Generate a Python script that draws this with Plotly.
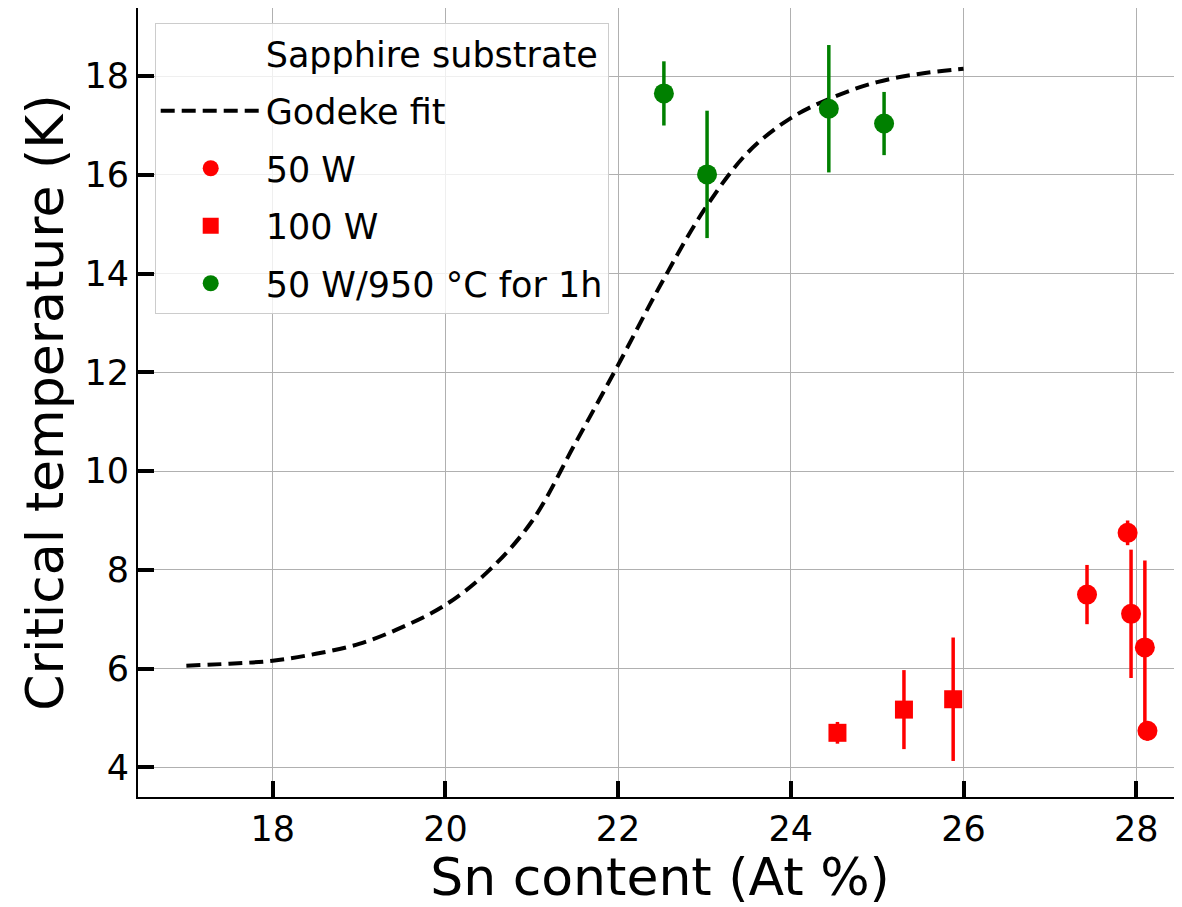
import plotly.graph_objects as go

FONT = "DejaVu Sans"
RED = "#ff0000"
GREEN = "#008000"

# Godeke fit
fit_x = [17.0, 17.5, 18.0, 18.5, 19.0, 19.5, 20.0, 20.5, 21.0, 21.5, 22.0,
         22.5, 23.0, 23.5, 24.0, 24.5, 25.0, 25.5, 26.0]
fit_tc = [6.06, 6.10, 6.16, 6.30, 6.50, 6.84, 7.29, 7.98, 8.98, 10.55, 12.15,
          13.8, 15.3, 16.45, 17.15, 17.58, 17.88, 18.05, 18.15]

# 50 W
w50_sn = [27.43, 27.90, 27.94, 28.10, 28.13]
w50_tc = [7.50, 8.75, 7.11, 6.43, 4.74]
w50_err = [0.60, 0.25, 1.30, 1.76, 0.20]

# 100 W
w100_sn = [24.54, 25.31, 25.88]
w100_tc = [4.70, 5.17, 5.38]
w100_err = [0.22, 0.80, 1.25]

# 50 W annealed at 950 C for 1h
ann_sn = [22.53, 23.03, 24.44, 25.08]
ann_tc = [17.65, 16.01, 17.34, 17.04]
ann_err = [0.65, 1.29, 1.29, 0.64]

x_ticks = [18, 20, 22, 24, 26, 28]
y_ticks = [4, 6, 8, 10, 12, 14, 16, 18]

fig = go.Figure()

# dummy entry used as a heading in the legend
fig.add_trace(go.Scatter(
    x=[None], y=[None], mode="lines", name="Sapphire substrate",
    line=dict(color="rgba(0,0,0,0)", width=0), legendgroup="a",
))
fig.add_trace(go.Scatter(
    x=fit_x, y=fit_tc, mode="lines", name="Godeke fit", legendgroup="b",
    line=dict(color="black", width=4, dash="14px,7px", shape="spline"),
))
fig.add_trace(go.Scatter(
    x=w50_sn, y=w50_tc, mode="markers", name="50 W", legendgroup="c",
    marker=dict(color=RED, size=20, symbol="circle"),
    error_y=dict(type="data", array=w50_err, color=RED, thickness=3.5, width=0),
))
fig.add_trace(go.Scatter(
    x=w100_sn, y=w100_tc, mode="markers", name="100 W", legendgroup="d",
    marker=dict(color=RED, size=18, symbol="square"),
    error_y=dict(type="data", array=w100_err, color=RED, thickness=3.5, width=0),
))
fig.add_trace(go.Scatter(
    x=ann_sn, y=ann_tc, mode="markers", name="50 W/950 °C for 1h", legendgroup="e",
    marker=dict(color=GREEN, size=20, symbol="circle"),
    error_y=dict(type="data", array=ann_err, color=GREEN, thickness=3.5, width=0),
))

axis_common = dict(
    showgrid=True, gridcolor="#b0b0b0", gridwidth=1,
    showline=True, linecolor="black", linewidth=2,
    ticks="inside", ticklen=16, tickwidth=4, tickcolor="black",
    tickfont=dict(family=FONT, size=35, color="black"),
    zeroline=False, automargin=False,
)

# the page body adds an 8px offset, so the figure is sized to end at the window edge
fig.update_layout(
    width=1174,
    height=899,
    margin=dict(l=130, r=0, t=0, b=110),
    plot_bgcolor="white",
    paper_bgcolor="white",
    font=dict(family=FONT, color="black"),
    xaxis=dict(
        axis_common, range=[16.44, 28.53], tickvals=x_ticks, mirror=True,
        title=dict(text="Sn content (At %)", font=dict(family=FONT, size=52)),
    ),
    yaxis=dict(
        axis_common, range=[3.40, 19.38], tickvals=y_ticks, mirror=False,
        title=dict(text="Critical temperature (K)", font=dict(family=FONT, size=52),
                   standoff=4),
    ),
    legend=dict(
        x=0.016, y=0.981, xanchor="left", yanchor="top",
        bgcolor="rgba(255,255,255,0.8)", bordercolor="#cccccc", borderwidth=1,
        font=dict(family=FONT, size=35, color="black"),
        traceorder="grouped", tracegroupgap=9, itemwidth=100,
    ),
    showlegend=True,
)

fig.write_html("out.html")
